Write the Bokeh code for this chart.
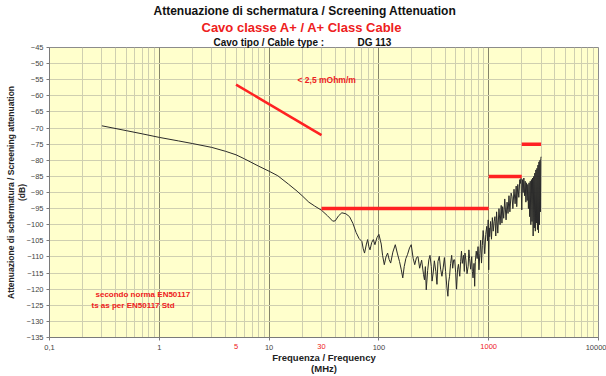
from bokeh.plotting import figure
from bokeh.models import Range1d, FixedTicker, Label, Title, LogAxis
from bokeh.embed import file_html
from bokeh.resources import INLINE

# ---------------- data ----------------
freq_mhz = [0.3, 0.5, 0.7, 1.0, 1.5, 2.0, 3.0, 4.0, 5.0, 6.0, 8.0, 10, 12, 15, 18, 20, 23, 26, 30, 34, 38, 40,
            43, 46, 50, 54, 58, 62, 66, 70, 72, 74, 77, 79, 81, 83, 86, 89, 92, 96, 100, 103, 105, 108, 112,
            116, 120, 124, 128, 134, 141, 147, 154, 160, 165, 170, 176, 182, 190, 197, 205, 212, 220, 227,
            235, 245, 255, 260, 265, 270, 278, 285, 292, 300, 305, 312, 320, 330, 338, 345, 355, 365, 375,
            385, 395, 405, 415, 425, 432, 440, 450, 460, 470, 480, 490, 500, 510, 520, 530, 545, 555, 565,
            575, 590, 600, 608, 620, 635, 650, 660, 670, 685, 700, 710, 720, 735, 745, 755, 770, 785, 800,
            815, 830, 845, 860, 875, 890, 905, 920, 940, 960, 975, 990, 1000, 1010, 1020, 1040, 1060, 1080,
            1100, 1120, 1140, 1160, 1180, 1210, 1240, 1270, 1300, 1320, 1340, 1370, 1400, 1440, 1470, 1500,
            1530, 1560, 1600, 1630, 1660, 1700, 1740, 1780, 1800, 1840, 1880, 1920, 1940, 1970, 2000, 2030,
            2060, 2090, 2120, 2150, 2180, 2210, 2240, 2270, 2300, 2330, 2360, 2390, 2420, 2450, 2480, 2510,
            2540, 2570, 2600, 2630, 2660, 2690, 2720, 2750, 2780, 2810, 2840, 2870, 2900, 2930, 2960, 2980,
            3000]
atten_db = [-69.3, -70.8, -71.8, -72.9, -74.0, -74.8, -76.0, -77.2, -78.3, -79.6, -81.8, -83.4, -84.8,
            -87.4, -89.6, -91.0, -93.0, -94.2, -95.5, -97.2, -98.9, -98.8, -97.2, -96.3, -96.6, -97.5, -99.6,
            -102.4, -104.3, -105.2, -107.5, -108.8, -106.0, -104.6, -106.8, -107.8, -105.5, -104.6, -106.2,
            -104.0, -103.0, -104.8, -106.0, -109.5, -112.4, -110.0, -108.8, -110.8, -111.9, -108.5, -106.2,
            -108.8, -111.4, -114.0, -116.5, -113.0, -110.5, -109.3, -107.2, -106.2, -110.4, -112.4, -110.2,
            -109.9, -113.5, -111.0, -115.5, -117.1, -113.0, -120.2, -114.2, -110.9, -109.5, -113.0, -117.5,
            -115.0, -111.2, -114.5, -118.5, -111.4, -109.8, -113.8, -116.0, -113.4, -110.2, -114.5, -119.0,
            -122.2, -117.8, -116.0, -112.0, -109.5, -113.5, -110.9, -110.9, -114.8, -120.0, -114.0, -112.3,
            -116.0, -111.5, -108.2, -112.0, -109.5, -114.5, -108.8, -111.0, -115.2, -112.9, -107.8, -110.5,
            -113.8, -109.9, -114.5, -116.5, -112.0, -119.1, -111.5, -108.2, -110.5, -106.8, -114.0, -109.0,
            -104.8, -111.9, -106.5, -101.8, -104.7, -109.0, -103.0, -100.5, -105.0, -98.5, -114.0, -101.0,
            -103.7, -99.0, -104.5, -97.8, -102.0, -99.0, -97.5, -103.5, -96.0, -102.6, -95.0, -100.0, -94.0,
            -99.5, -94.4, -98.0, -92.0, -98.5, -93.0, -96.5, -91.0, -96.0, -90.2, -91.3, -95.0, -89.0, -93.5,
            -88.0, -94.4, -87.5, -91.5, -86.0, -87.2, -85.6, -95.4, -86.0, -90.0, -85.5, -91.0, -86.5, -93.0,
            -87.0, -92.5, -87.5, -95.0, -87.0, -97.5, -86.5, -100.0, -86.0, -99.0, -85.5, -103.5, -85.0,
            -101.0, -84.0, -102.0, -83.0, -99.5, -82.5, -101.5, -81.5, -102.5, -80.5, -100.0, -80.0, -96.0,
            -79.5, -78.9]

limit_h_start = [30, 1000, 2000]
limit_h_end = [1000, 2000, 3000]
limit_h_level = [-95, -85, -75]
slope_x = [5, 30]
slope_y = [-56.5, -72.2]

y_ticks = list(range(-135, -44, 5))
x_major = [0.1, 1, 10, 100, 1000, 10000]
x_labels = {0.1: "0,1", 1: "1", 10: "10", 100: "100", 1000: "", 10000: "10000"}
red_ticks = [5, 30, 1000]
red_labels = {5: "5", 30: "30", 1000: "1000"}

title_1 = "Attenuazione di schermatura / Screening Attenuation"
title_2 = "Cavo classe A+ / A+ Class Cable"
title_3a = "Cavo tipo / Cable type :"
title_3b = "DG 113"
y_title = "Attenuazione di schermatura / Screening attenuation\n(dB)"
x_title = "Frequenza / Frequency\n(MHz)"
note_slope = "< 2,5 mOhm/m"
note_std_1 = "secondo norma EN50117"
note_std_2 = "ts as per EN50117 Std"

# ---------------- figure ----------------
FONT = "Liberation Sans"
RED = "#ee2020"
W, H = 606, 376
L, R, T, B = 49, 8, 47, 38

p = figure(width=W, height=H, x_axis_type="log", output_backend="svg", toolbar_location=None,
           x_range=Range1d(0.1, 10000), y_range=Range1d(-135, -45),
           min_border_left=L, min_border_right=R, min_border_top=T, min_border_bottom=B)
p.background_fill_color = "#FFFFCC"
p.border_fill_color = "white"
p.outline_line_color = "#8c8c8c"

minor = [m * 10 ** k for k in range(-1, 4) for m in range(2, 10)]
p.xgrid.ticker = FixedTicker(ticks=x_major, minor_ticks=minor)
p.xgrid.grid_line_color = "#85856a"
p.xgrid.minor_grid_line_color = "#cfcfb0"
p.ygrid.ticker = FixedTicker(ticks=y_ticks)
p.ygrid.grid_line_color = "#cfcfb0"

p.xaxis.ticker = FixedTicker(ticks=x_major, minor_ticks=[])
p.xaxis.major_label_overrides = x_labels
p.yaxis.ticker = FixedTicker(ticks=y_ticks, minor_ticks=[])
for ax in (p.xaxis[0], p.yaxis[0]):
    ax.axis_line_color = "#7a7a7a"
    ax.major_tick_line_color = "#7a7a7a"
    ax.major_tick_in = 0
    ax.major_tick_out = 3
    ax.minor_tick_out = 0
    ax.minor_tick_in = 0
    ax.major_label_text_font = FONT
    ax.major_label_text_font_size = "7.5px"
    ax.major_label_text_color = "#444444"
    ax.axis_label_text_font = FONT
    ax.axis_label_text_font_style = "bold"
    ax.axis_label_text_color = "#222222"
p.xaxis.major_label_standoff = 4
p.yaxis.major_label_standoff = 3
p.yaxis.axis_label = y_title
p.yaxis.axis_label_text_font_size = "8.5px"
p.yaxis.axis_label_text_line_height = 1.1
p.yaxis.axis_label_standoff = -3

# second bottom axis: red tick labels and axis title
red_axis = LogAxis(ticker=FixedTicker(ticks=red_ticks, minor_ticks=[]),
                   major_label_overrides=red_labels, axis_line_color=None,
                   major_tick_line_color=None, minor_tick_line_color=None,
                   major_label_text_color=RED, major_label_text_font=FONT,
                   major_label_text_font_size="7.5px", major_label_standoff=-15,
                   axis_label=x_title, axis_label_text_font=FONT, axis_label_text_font_style="bold",
                   axis_label_text_font_size="9.5px", axis_label_text_color="#222222",
                   axis_label_text_line_height=1.0, axis_label_standoff=0)
p.add_layout(red_axis, "below")

# titles (closest to the frame first)
gap = "\u00a0" * 12
p.add_layout(Title(text=title_3a + gap + title_3b, align="left", offset=164, text_font=FONT,
                   text_font_size="10px", text_font_style="bold", text_color="#111111",
                   standoff=0), "above")
p.add_layout(Title(text=title_2, align="left", offset=152, text_font=FONT,
                   text_font_size="13px", text_font_style="bold", text_color=RED,
                   standoff=0), "above")
p.add_layout(Title(text=title_1, align="left", offset=104, text_font=FONT,
                   text_font_size="12px", text_font_style="bold", text_color="#111111",
                   standoff=0), "above")

# data curve
p.line(freq_mhz, atten_db, line_color="#2a2a2a", line_width=1)

# red limit lines
p.segment(x0=limit_h_start, y0=limit_h_level, x1=limit_h_end, y1=limit_h_level,
          line_color="#ff2222", line_width=3.5)
p.line(slope_x, slope_y, line_color="#ff2222", line_width=2.5)


# ---------------- notes inside the plot (data coords from pixel reading) ----------------
def fx(px):
    return 0.1 * 10 ** ((px - 49) / 109.8)


def fy(py):
    return -45 - (py - 47) / 3.233


def lab(text, px, py, size):
    p.add_layout(Label(x=fx(px), y=fy(py), text=text, text_font=FONT, text_font_size=size,
                       text_color=RED, text_font_style="bold",
                       text_align="left", text_baseline="middle"))


lab(note_slope, 297, 80, "8.5px")
lab(note_std_1, 95, 295, "8px")
lab(note_std_2, 91, 306, "8px")

open("out.html", "w").write(file_html(p, INLINE))
